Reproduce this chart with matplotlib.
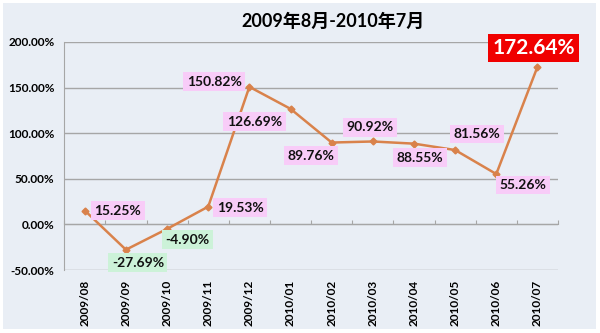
import matplotlib.pyplot as plt
from matplotlib.patches import Rectangle

plt.rcParams['font.family'] = ['Lato', 'Noto Sans CJK SC', 'DejaVu Sans']

# 월별 수익률 데이터
months = ['2009/08', '2009/09', '2009/10', '2009/11', '2009/12', '2010/01',
          '2010/02', '2010/03', '2010/04', '2010/05', '2010/06', '2010/07']
values = [15.25, -27.69, -4.90, 19.53, 150.82, 126.69,
          89.76, 90.92, 88.55, 81.56, 55.26, 172.64]
yticks = [-50, 0, 50, 100, 150, 200]

# 라벨 위치 (픽셀 오프셋)
offsets = [(33, 0), (12, -13), (20, -11), (32, -1), (-35, 5), (-36, -13),
           (-21, -13), (-3, 14), (6, -14), (22, 16), (27, -11), (-4, 19)]

bg = '#E9EEF5'
fig = plt.figure(figsize=(6, 3.33), dpi=100)
fig.patch.set_facecolor('white')
fig.patches.append(Rectangle((0.005, 0.012), 0.988, 0.98, transform=fig.transFigure,
                             facecolor=bg, edgecolor='none', zorder=-1))

ax = fig.add_axes([0.107, 0.189, 0.823, 0.685])
ax.set_facecolor(bg)
x = list(range(len(months)))
ax.plot(x, values, color='#D9824B', lw=1.8, marker='D', ms=3.5, zorder=3)

ax.set_xlim(-0.5, len(months) - 0.5)
ax.set_ylim(-50, 200)
ax.set_yticks(yticks)
ax.set_yticklabels(['{:.2f}%'.format(v) for v in yticks], fontsize=8.5, fontweight='bold')
ax.set_xticks(x)
ax.set_xticklabels(months, rotation=90, fontsize=8.5, fontweight='bold')
ax.tick_params(length=0, pad=7)
ax.grid(axis='y', color='#A6A6A6', lw=1)
for s in ['top', 'right', 'bottom']:
    ax.spines[s].set_visible(False)
ax.spines['left'].set_color('#A6A6A6')

# 0% 기준선 + 구간 눈금
zero = ax.secondary_xaxis((0 - (-50)) / 250)
zero.set_xticks([i - 0.5 for i in range(len(months) + 1)])
zero.set_xticklabels([])
zero.tick_params(direction='in', length=3, color='#A6A6A6')
zero.spines['bottom'].set_color('#A6A6A6')

for i, v in enumerate(values):
    dx, dy = offsets[i]
    if i == len(values) - 1:
        ax.annotate('{:.2f}%'.format(v), (i, v), xytext=(dx, dy), textcoords='offset pixels',
                    ha='center', va='center', fontsize=15, fontweight='bold', color='white',
                    bbox=dict(boxstyle='square,pad=0.2', fc='#F00000', ec='none'), zorder=5)
    else:
        fc = '#CCF2D8' if v < 0 else '#F8CCF8'
        ax.annotate('{:.2f}%'.format(v), (i, v), xytext=(dx, dy), textcoords='offset pixels',
                    ha='center', va='center', fontsize=10, fontweight='bold', color='#111111',
                    bbox=dict(boxstyle='square,pad=0.25', fc=fc, ec='none'), zorder=5)

fig.text(0.555, 0.935, '2009年8月-2010年7月', ha='center', va='center',
         fontsize=13, fontweight='bold')

fig.savefig('out.png', dpi=100, facecolor='white')
